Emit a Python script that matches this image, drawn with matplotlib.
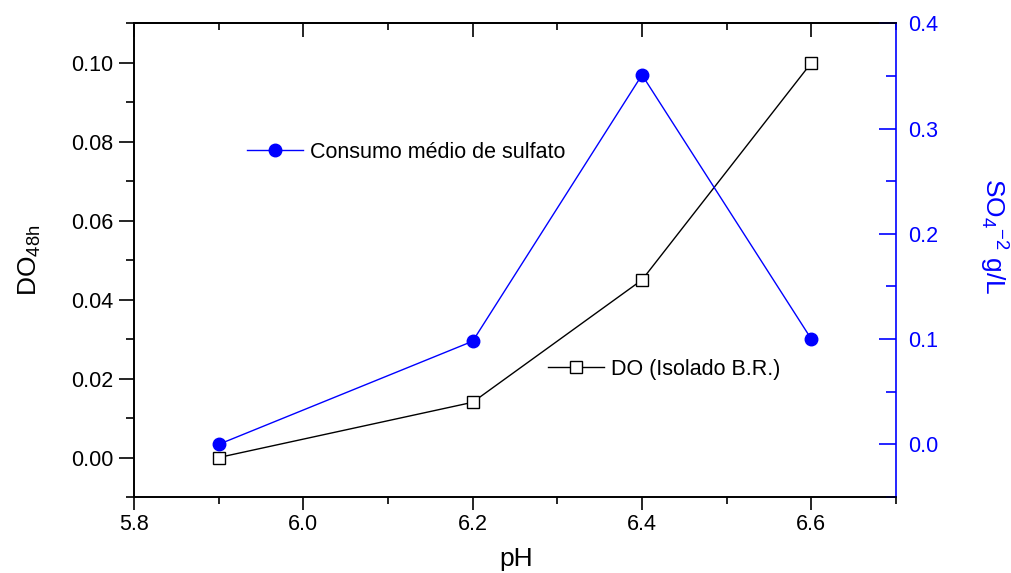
"""
Recreate the DO / sulfate vs pH chart with a twin y-axis.
"""

import matplotlib

matplotlib.use("Agg")
import matplotlib.pyplot as plt
from matplotlib.lines import Line2D
from matplotlib.ticker import MultipleLocator

plt.rcParams["font.family"] = ["Liberation Sans", "DejaVu Sans"]
plt.rcParams["mathtext.default"] = "regular"

# ---------------------------------------------------------------------------
# Data
# ---------------------------------------------------------------------------
ph = [5.9, 6.2, 6.4, 6.6]
do_48h = [0.000, 0.014, 0.045, 0.100]
sulfate = [0.000, 0.098, 0.351, 0.100]

LABEL_SULFATE = "Consumo médio de sulfato"
LABEL_DO = "DO (Isolado B.R.)"

BLUE = "#0000FF"
BLACK = "#000000"
TICK_FS = 15.5
LABEL_FS = 19

fig = plt.figure(figsize=(10.11, 5.73), dpi=100)
ax = fig.add_axes([0.1325, 0.1326, 0.7538, 0.8267])
ax2 = ax.twinx()

# DO series on the left axis
ax.plot(ph, do_48h, color=BLACK, linewidth=1.0, marker="s", markersize=8,
        markerfacecolor="white", markeredgecolor=BLACK, markeredgewidth=1.0,
        zorder=3)

# Sulfate series on the right axis
ax2.plot(ph, sulfate, color=BLUE, linewidth=1.0, marker="o", markersize=9,
         markerfacecolor=BLUE, markeredgecolor=BLUE, zorder=3)

ax.set_xlim(5.8, 6.7)
ax.set_ylim(-0.01, 0.11)
ax2.set_ylim(-0.05, 0.4)

ax.xaxis.set_major_locator(MultipleLocator(0.2))
ax.xaxis.set_minor_locator(MultipleLocator(0.1))
ax.yaxis.set_major_locator(MultipleLocator(0.02))
ax.yaxis.set_minor_locator(MultipleLocator(0.01))
ax2.yaxis.set_major_locator(MultipleLocator(0.1))
ax2.yaxis.set_minor_locator(MultipleLocator(0.05))

ax.xaxis.set_major_formatter(lambda v, p: f"{v:.1f}")
ax.yaxis.set_major_formatter(lambda v, p: f"{v:.2f}")
ax2.yaxis.set_major_formatter(lambda v, p: f"{v:.1f}")

for side in ["left", "bottom", "top", "right"]:
    ax.spines[side].set_linewidth(1.2)
    ax2.spines[side].set_linewidth(1.2)
ax2.spines["right"].set_color(BLUE)
ax.spines["right"].set_visible(False)

# ticks: left out, bottom out
ax.tick_params(axis="y", which="major", direction="out", length=11, width=1.2,
               labelsize=TICK_FS, pad=4)
ax.tick_params(axis="y", which="minor", direction="out", length=6, width=1.2)
ax.tick_params(axis="x", which="major", direction="out", length=9, width=1.2,
               labelsize=TICK_FS, pad=3)
ax.tick_params(axis="x", which="minor", direction="out", length=5, width=1.2)

# top ticks point inward, no labels
top = ax.secondary_xaxis("top")
top.xaxis.set_major_locator(MultipleLocator(0.2))
top.xaxis.set_minor_locator(MultipleLocator(0.1))
top.tick_params(axis="x", which="major", direction="in", length=10, width=1.2,
                labeltop=False)
top.tick_params(axis="x", which="minor", direction="in", length=5, width=1.2)
top.spines["top"].set_linewidth(1.2)

# right axis ticks point inward, blue
ax2.tick_params(axis="y", which="major", direction="in", length=12, width=1.2,
                colors=BLUE, labelsize=TICK_FS, pad=9)
ax2.tick_params(axis="y", which="minor", direction="in", length=7, width=1.2,
                colors=BLUE)

ax.set_xlabel("pH", fontsize=LABEL_FS, va="top")
ax.xaxis.set_label_coords(0.501, -0.105)
ax.set_ylabel("DO$_{48h}$", fontsize=LABEL_FS, va="center")
ax.yaxis.set_label_coords(-0.137, 0.5)
ax2.set_ylabel("SO$_4$$^{-2}$ g/L", fontsize=LABEL_FS, color=BLUE,
               rotation=-90, va="center", ha="center")
ax2.yaxis.set_label_coords(1.127, 0.55)

# in-plot legend entries
h_sulf = Line2D([], [], color=BLUE, linewidth=1.0, marker="o", markersize=9,
                markerfacecolor=BLUE)
h_do = Line2D([], [], color=BLACK, linewidth=1.0, marker="s", markersize=8,
              markerfacecolor="white", markeredgewidth=1.0)

leg1 = ax2.legend([h_sulf], [LABEL_SULFATE], loc="center left",
                  bbox_to_anchor=(247 / 1011, 1 - 152 / 573),
                  bbox_transform=fig.transFigure, frameon=False,
                  fontsize=TICK_FS, borderpad=0, borderaxespad=0,
                  handlelength=2.6, handletextpad=0.33)
leg2 = ax2.legend([h_do], [LABEL_DO], loc="center left",
                  bbox_to_anchor=(548 / 1011, 1 - 369 / 573),
                  bbox_transform=fig.transFigure, frameon=False,
                  fontsize=TICK_FS, borderpad=0, borderaxespad=0,
                  handlelength=2.6, handletextpad=0.33)
ax2.add_artist(leg1)

fig.savefig("out.png", dpi=100)
